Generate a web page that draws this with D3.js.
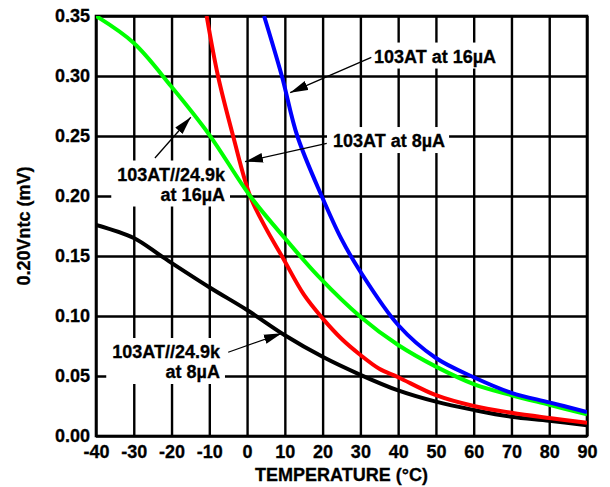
<!DOCTYPE html>
<html>
<head>
<meta charset="utf-8">
<script src="https://cdn.jsdelivr.net/npm/d3@7"></script>
<style>
	body { margin: 0; background: #fff; }
	text { font-family: Arial, "Liberation Sans", sans-serif; font-weight: bold; }
</style>
</head>
<body>
<div id="chart-area"></div>
<script>
// Data: [temperature °C, mV]
const temps = [-40, -30, -20, -10, 0, 10, 20, 30, 40, 50, 60, 70, 80, 90]
const yTicks = [0, 0.05, 0.10, 0.15, 0.20, 0.25, 0.30, 0.35]

const blue16 = [[4.5, 0.35], [9.2, 0.30], [13.3, 0.25], [19.75, 0.20], [25, 0.164], [30, 0.137],
	[40, 0.0925], [50, 0.065], [60, 0.049], [70, 0.036], [80, 0.028], [90, 0.020]]
const red8 = [[-10.7, 0.35], [-7.7, 0.30], [-3.7, 0.25], [0.8, 0.20], [5, 0.173], [9.2, 0.15],
	[15, 0.118], [20, 0.098], [25, 0.081], [30, 0.0675], [35, 0.056], [40, 0.049],
	[50, 0.034], [60, 0.025], [70, 0.0194], [80, 0.015], [90, 0.011]]
const green16 = [[-40, 0.35], [-30, 0.3275], [-20, 0.291], [-10, 0.251], [0.8, 0.20], [10.5, 0.163],
	[18.9, 0.133], [30, 0.0994], [40, 0.0758], [50, 0.0578], [60, 0.0433], [70, 0.034], [80, 0.026], [90, 0.018]]
const black8 = [[-40, 0.176], [-30, 0.165], [-22.3, 0.149], [-10, 0.124], [0, 0.105], [10, 0.084],
	[20, 0.066], [30, 0.051], [40, 0.038], [50, 0.0286], [60, 0.0217], [70, 0.016], [80, 0.0128], [90, 0.009]]

const series = [
	{ name: 'black', color: '#000000', values: black8 },
	{ name: 'red', color: '#ff0000', values: red8 },
	{ name: 'green', color: '#00ff00', values: green16 },
	{ name: 'blue', color: '#0000ff', values: blue16 }
]

// Callouts in data units: text anchor, arrow tail, arrow tip
const notes = [
	{ lines: ['103AT at 16µA'], anchor: 'start', at: [33.6, 0.3112], tail: [32.9, 0.3156], tip: [11.4, 0.2861] },
	{ lines: ['103AT at 8µA'], anchor: 'start', at: [22.75, 0.2408], tail: [21.1, 0.2439], tip: [-0.55, 0.2286] },
	{ lines: ['103AT//24.9k', 'at 16µA'], anchor: 'end', at: [-5.84, 0.2129], tail: [-24.4, 0.2317], tip: [-14.9, 0.2656] },
	{ lines: ['103AT//24.9k', 'at 8µA'], anchor: 'end', at: [-7.17, 0.065], tail: [-5.0, 0.0698], tip: [9.2, 0.0856] }
]

const canvas = { width: 610, height: 487 }
const margin = { left: 96, right: 23, top: 16, bottom: 51 }
const plot = {
	width: canvas.width - margin.left - margin.right,
	height: canvas.height - margin.top - margin.bottom
}

let svg = d3.select('#chart-area')
	.append('svg')
		.attr('width', canvas.width)
		.attr('height', canvas.height)

svg.append('defs').append('marker')
	.attr('id', 'head')
	.attr('markerUnits', 'userSpaceOnUse')
	.attr('viewBox', '0 -5 18 10')
	.attr('refX', 18)
	.attr('refY', 0)
	.attr('markerWidth', 18)
	.attr('markerHeight', 10)
	.attr('orient', 'auto')
	.append('path')
		.attr('d', 'M0,-4.8L18,0L0,4.8Z')
		.attr('fill', '#000')

svg.select('defs').append('clipPath')
	.attr('id', 'clip')
	.append('rect')
		.attr('width', plot.width)
		.attr('height', plot.height)

let g = svg.append('g')
	.attr('transform', `translate(${margin.left}, ${margin.top})`)

// Scales
let x = d3.scaleLinear().domain([-40, 90]).range([0, plot.width])
let y = d3.scaleLinear().domain([0, 0.35]).range([plot.height, 0])

// Grid via axes
let xAxis = d3.axisBottom(x)
	.tickValues(temps)
	.tickSize(-plot.height)
	.tickSizeOuter(0)
	.tickPadding(9)
	.tickFormat(d => String(d)) // plain hyphen, not unicode minus
let xg = g.append('g')
	.attr('transform', `translate(0, ${plot.height})`)
	.call(xAxis)
let yAxis = d3.axisLeft(y)
	.tickValues(yTicks)
	.tickSize(-plot.width)
	.tickSizeOuter(0)
	.tickPadding(6)
	.tickFormat(d3.format('.2f'))
let yg = g.append('g').call(yAxis)

;[xg, yg].forEach(a => {
	a.select('.domain').remove()
	a.selectAll('line').attr('stroke', '#000').attr('stroke-width', 2.4)
	a.selectAll('text')
		.attr('fill', '#000')
		.attr('stroke', '#000')
		.attr('stroke-width', 0.3)
		.style('font-size', '18px')
		.style('font-family', 'Arial, "Liberation Sans", sans-serif')
		.style('font-weight', 'bold')
})

// Frame
g.append('rect')
	.attr('width', plot.width)
	.attr('height', plot.height)
	.attr('fill', 'none')
	.attr('stroke', '#000')
	.attr('stroke-width', 2.6)

// Callout boxes and text (boxes hide the grid)
let noteG = g.append('g')
let noteText = []
notes.forEach(n => {
	let box = noteG.append('rect').attr('fill', '#fff')
	let t = noteG.append('text')
		.attr('text-anchor', n.anchor)
		.style('font-size', '18px')
		.attr('fill', '#000')
		.attr('stroke', '#000')
		.attr('stroke-width', 0.3)
	n.lines.forEach((l, i) => {
		t.append('tspan')
			.attr('x', x(n.at[0]))
			.attr('y', y(n.at[1]) + i * 20)
			.text(l)
	})
	let b = t.node().getBBox()
	box.attr('x', b.x - 6).attr('y', b.y - 4).attr('width', b.width + 10).attr('height', b.height + 6)
	noteText.push(t)
})

// Curves
let line = d3.line()
	.x(d => x(d[0]))
	.y(d => y(d[1]))
	.curve(d3.curveCatmullRom.alpha(0.5))

g.append('g')
	.attr('clip-path', 'url(#clip)')
	.selectAll('path')
	.data(series)
	.enter()
	.append('path')
		.attr('d', d => line(d.values))
		.attr('fill', 'none')
		.attr('stroke', d => d.color)
		.attr('stroke-width', 4)
		.attr('stroke-linejoin', 'round')

// Arrows
g.selectAll('.arrow')
	.data(notes)
	.enter()
	.append('line')
		.attr('class', 'arrow')
		.attr('x1', d => x(d.tail[0]))
		.attr('y1', d => y(d.tail[1]))
		.attr('x2', d => x(d.tip[0]))
		.attr('y2', d => y(d.tip[1]))
		.attr('stroke', '#000')
		.attr('stroke-width', 1.3)
		.attr('marker-end', 'url(#head)')

noteText.forEach(t => t.raise())

// Axis titles
g.append('text')
	.attr('x', plot.width / 2)
	.attr('y', plot.height + 45)
	.attr('text-anchor', 'middle')
	.attr('stroke', '#000')
	.attr('stroke-width', 0.3)
	.style('font-size', '18px')
	.text('TEMPERATURE (°C)')
g.append('text')
	.attr('x', -(plot.height / 2))
	.attr('y', -66)
	.attr('transform', 'rotate(-90)')
	.attr('text-anchor', 'middle')
	.attr('stroke', '#000')
	.attr('stroke-width', 0.3)
	.style('font-size', '18px')
	.text('0.20Vntc (mV)')
</script>
</body>
</html>
